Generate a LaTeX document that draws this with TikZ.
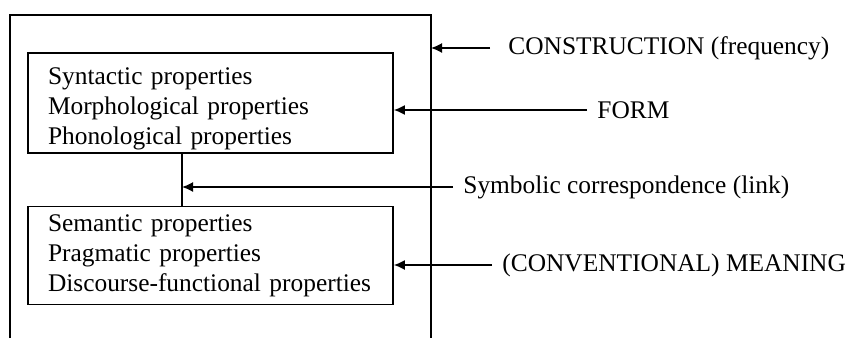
\documentclass[tikz,border=0pt]{standalone}
\usepackage{fontspec}
\setmainfont{Liberation Serif}
\usetikzlibrary{arrows.meta}
\usetikzlibrary{positioning}

\begin{document}
\begin{tikzpicture}[x=0.5pt,y=-0.5pt,
        font=\fontsize{12.7}{15}\selectfont,
        propbox/.style={draw,line width=0.8pt,align=left,text width=162.5pt,inner xsep=10pt,inner ysep=0pt},
        lbl/.style={anchor=west,inner xsep=5pt,inner ysep=0pt},
        arr/.style={line width=0.8pt,-{Latex[length=5.5pt,width=5pt]}}]
        \useasboundingbox (0,0) rectangle (850,338);
        \coordinate (outbl) at (10,338);
        \coordinate (outtl) at (10,15);
        \coordinate (outtr) at (431,15);
        \coordinate (outbr) at (431,338);
        \draw[line width=0.8pt] (outbl) -- (outtl) -- (outtr) -- (outbr);
        \node[propbox,minimum height=50pt] (formbox) at (210.5,103) {\rule{0pt}{14.5pt}Syntactic properties\\Morphological properties\\Phonological properties};
        \node[propbox,minimum height=49pt,below=26pt of formbox] (meanbox) {Semantic properties\\Pragmatic properties\\Discourse-functional properties};
        \coordinate (linktop) at (182,153);
        \draw[line width=0.8pt] (linktop) -- (linktop |- meanbox.north);
        \node[lbl] (conlbl) at (498,48) {CONSTRUCTION (frequency)};
        \node[lbl] (formlbl) at (587,110) {FORM};
        \node[lbl] (symlbl) at (453,187) {Symbolic correspondence (link)};
        \node[lbl] (meanlbl) at (492,265) {(CONVENTIONAL) MEANING};
        \draw[arr,shorten <=4pt] (conlbl.west) -- (conlbl.west -| outtr);
        \draw[arr] (formlbl.west) -- (formlbl.west -| formbox.east);
        \draw[arr] (symlbl.west) -- (symlbl.west -| linktop);
        \draw[arr] (meanlbl.west) -- (meanlbl.west -| meanbox.east);
\end{tikzpicture}
\end{document}
